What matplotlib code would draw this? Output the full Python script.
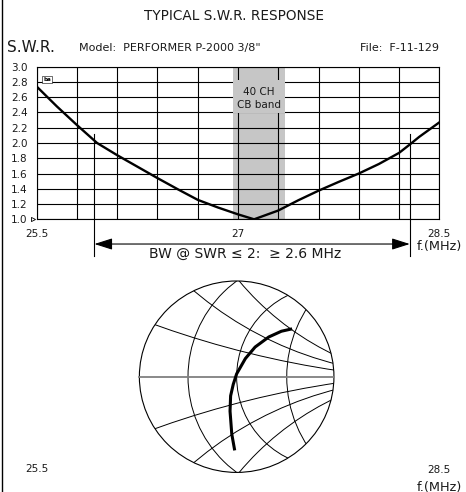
import numpy as np
import matplotlib
matplotlib.use("Agg")
import matplotlib.pyplot as plt
from matplotlib.patches import Circle, Rectangle
from matplotlib.lines import Line2D

# SWR curve
freq = [25.5, 25.65, 25.8, 25.95, 26.1, 26.25, 26.4, 26.55, 26.7, 26.85, 27.0, 27.12,
        27.3, 27.45, 27.6, 27.75, 27.9, 28.05, 28.2, 28.28, 28.35, 28.5]
swr = [2.74, 2.48, 2.235, 2.0, 1.84, 1.69, 1.54, 1.395, 1.255, 1.155, 1.065, 1.0,
       1.115, 1.25, 1.375, 1.49, 1.60, 1.725, 1.87, 1.98, 2.08, 2.27]

band_lo, band_hi = 26.965, 27.35
bw_lo, bw_hi = 25.93, 28.28
y_ticks = [1.0, 1.2, 1.4, 1.6, 1.8, 2.0, 2.2, 2.4, 2.6, 2.8, 3.0]
x_ticks = [25.5, 27, 28.5]
x_tick_labels = ["25.5", "27", "28.5"]

# impedance locus on the smith chart (reflection coeff., 25.5 -> 28.5 MHz)
gamma_re = [-0.02, -0.05, -0.068, -0.062, -0.035, 0.0, 0.09, 0.19, 0.33, 0.46, 0.57]
gamma_im = [-0.77, -0.60, -0.36, -0.20, -0.08, 0.03, 0.19, 0.31, 0.415, 0.475, 0.50]

W, H = 466, 492
fig = plt.figure(figsize=(W / 100, H / 100), dpi=100)
txt = "#1a1a1a"
band_col = "#c6c6c6"


def px(x, y):
    return x / W, 1 - y / H


# ---------- titles ----------
fig.text(*px(234, 16), "TYPICAL S.W.R. RESPONSE", ha="center", va="center", fontsize=9.8, color=txt)
fig.text(*px(6.5, 48), "S.W.R.", ha="left", va="center", fontsize=11, color=txt)
fig.text(*px(79, 48), "Model:  PERFORMER P-2000 3/8\"", ha="left", va="center", fontsize=8, color=txt)
fig.text(*px(439.5, 48), "File:  F-11-129", ha="right", va="center", fontsize=8, color=txt)

# ---------- SWR plot ----------
ax = fig.add_axes([36.7 / W, 1 - 219.3 / H, 402.6 / W, 152.6 / H])
ax.set_xlim(25.5, 28.5)
ax.set_ylim(1.0, 3.0)
ax.axvspan(band_lo, band_hi, color=band_col, lw=0, zorder=0)
for xv in np.arange(25.5, 28.51, 0.3):
    ax.axvline(xv, color="k", lw=0.8, zorder=1)
for yv in y_ticks:
    ax.axhline(yv, color="k", lw=0.8, zorder=1)
# label box inside the band hides the grid behind the text
ax.add_patch(Rectangle((band_lo, 2.39), band_hi - band_lo, 0.43, fc=band_col, ec="none", zorder=2))
ax.plot(freq, swr, color="k", lw=1.7, zorder=3)

ax.set_yticks(y_ticks)
ax.set_yticklabels([f"{v:.1f}" for v in y_ticks])
ax.set_xticks(x_ticks)
ax.set_xticklabels(x_tick_labels)
ax.tick_params(length=0, labelsize=7.5, labelcolor=txt)
ax.tick_params(axis="y", pad=6.5)
ax.tick_params(axis="x", pad=7)
for s in ax.spines.values():
    s.set_linewidth(0.8)

ax.text((band_lo + band_hi) / 2, 2.67, "40 CH", ha="center", va="center", fontsize=7.5, color=txt, zorder=4)
ax.text((band_lo + band_hi) / 2, 2.50, "CB band", ha="center", va="center", fontsize=7.5, color=txt, zorder=4)
ax.plot(25.47, 1.0, marker=">", ms=3, mfc="white", mec="k", mew=0.6, clip_on=False)

fig.text(*px(47, 79.5), "ba", ha="center", va="center", fontsize=4, fontweight="bold",
         bbox=dict(boxstyle="square,pad=0.15", fc="white", ec="k", lw=0.4))

# bandwidth marker
for xv in (bw_lo, bw_hi):
    ax.plot([xv, xv], [2.12, 0.52], color="k", lw=0.8, clip_on=False)
ax.annotate("", xy=(bw_hi, 0.676), xytext=(bw_lo, 0.676), annotation_clip=False,
            arrowprops=dict(arrowstyle="<|-|>,head_length=1.1,head_width=0.35",
                            mutation_scale=10, color="k", lw=0.8, shrinkA=0, shrinkB=0))
ax.text(27.056, 0.55, "BW @ SWR \u2264 2:  \u2265 2.6 MHz", ha="center", va="center",
        fontsize=10, color=txt, clip_on=False)
fig.text(*px(439, 246.5), "f.(MHz)", ha="center", va="center", fontsize=9.3, color=txt)

# ---------- smith chart ----------
sx = fig.add_axes([134.5 / W, 1 - 477.2 / H, 204.3 / W, 201 / H])
sx.set_xlim(-1.05, 1.05)
sx.set_ylim(-1.05, 1.05)
sx.axis("off")

clip = Circle((0, 0), 1, transform=sx.transData)
sx.add_patch(Circle((0, 0), 1, fill=False, ec="k", lw=0.8))
sx.plot([-1, 1], [0, 0], color="#808080", lw=1.3)


def circle3(p1, p2, p3):
    (x1, y1), (x2, y2), (x3, y3) = p1, p2, p3
    a = np.array([[x2 - x1, y2 - y1], [x3 - x1, y3 - y1]]) * 2
    b = np.array([x2**2 - x1**2 + y2**2 - y1**2, x3**2 - x1**2 + y3**2 - y1**2])
    c = np.linalg.solve(a, b)
    return c, np.hypot(x1 - c[0], y1 - c[1])


arcs = [
    ((0.0, 1.0), (-0.5, 0.0), (0.0, -1.0)),
    ((0.526, 0.85), (0.0, 0.0), (0.526, -0.85)),
    ((0.65, 0.585), (0.515, 0.0), (0.65, -0.585)),
]
for sgn in (1, -1):
    arcs.append(((-0.839, 0.543 * sgn), (0.003, 0.278 * sgn), (0.997, 0.07 * sgn)))
    arcs.append(((-0.427, 0.887 * sgn), (0.003, 0.571 * sgn), (0.992, 0.14 * sgn)))
    arcs.append(((0.034, 0.99 * sgn), (0.309, 0.701 * sgn), (0.97, 0.245 * sgn)))

for pts in arcs:
    c, r = circle3(*pts)
    circ = Circle(c, r, fill=False, ec="k", lw=0.7)
    sx.add_patch(circ)
    circ.set_clip_path(clip)

sx.plot(gamma_re, gamma_im, color="k", lw=2.2, solid_capstyle="butt", zorder=5)

fig.text(*px(36.7, 469.5), "25.5", ha="center", va="center", fontsize=7.5, color=txt)
fig.text(*px(439, 470), "28.5", ha="center", va="center", fontsize=7.5, color=txt)
fig.text(*px(439, 487), "f.(MHz)", ha="center", va="center", fontsize=9.3, color=txt)

fig.add_artist(Line2D([1.5 / W, 1.5 / W], [0, 1], transform=fig.transFigure, color="k", lw=1))

fig.savefig("out.png", dpi=100)
